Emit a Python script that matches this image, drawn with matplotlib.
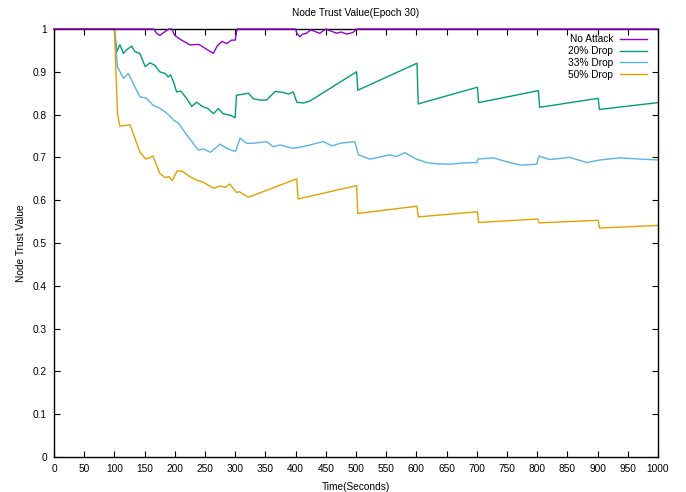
import matplotlib
matplotlib.use("Agg")
import matplotlib.pyplot as plt

plt.rcParams['font.family'] = ['Liberation Sans', 'DejaVu Sans']

# ============================
# Data
# ============================
x_none = [0, 165, 170, 175, 180, 190, 195, 200, 210, 225, 240, 250, 264, 270, 278, 286,
          294, 300, 303, 400, 402, 407, 412, 418, 425, 440, 450, 468, 475, 485, 495, 501, 1000]
y_none = [1, 1, 0.99, 0.985, 0.99, 1, 1, 0.985, 0.975, 0.963, 0.964, 0.955, 0.943, 0.96, 0.971,
          0.966, 0.974, 0.974, 1, 1, 0.99, 0.982, 0.988, 0.99, 0.998, 0.99, 1, 0.99, 0.993, 0.988,
          0.992, 1, 1]

x_20 = [0, 100, 104, 109, 115, 120, 128.6, 134, 142, 151, 159, 167, 175, 184, 189, 193, 198,
        203, 210, 220, 228, 236, 247, 255, 264, 272, 280, 291, 300, 302, 310, 322, 330, 341,
        352, 366, 379, 388, 396, 402, 413, 424, 501, 503, 601, 603, 701, 703, 802, 804, 901,
        903, 1000]
y_20 = [1, 1, 0.947, 0.963, 0.943, 0.951, 0.960, 0.947, 0.943, 0.912, 0.921, 0.915, 0.900,
        0.896, 0.888, 0.893, 0.876, 0.853, 0.855, 0.837, 0.819, 0.829, 0.818, 0.814, 0.802,
        0.814, 0.802, 0.799, 0.793, 0.845, 0.847, 0.850, 0.837, 0.834, 0.834, 0.854, 0.852,
        0.848, 0.853, 0.829, 0.827, 0.832, 0.900, 0.857, 0.920, 0.825, 0.864, 0.828, 0.856,
        0.817, 0.838, 0.812, 0.828]

x_33 = [0, 100, 105, 115, 123, 131, 142, 153, 164, 175, 187, 198, 206, 220, 239, 247, 259,
        275, 286, 297, 301, 308, 319, 330, 352, 363, 374, 396, 418, 446, 460, 474, 498, 504,
        523, 556, 567, 581, 600, 617, 634, 656, 678, 700, 702, 727, 749, 772, 799, 803, 821,
        854, 882, 904, 937, 970, 1000]
y_33 = [1, 1, 0.912, 0.885, 0.896, 0.873, 0.842, 0.838, 0.822, 0.815, 0.803, 0.787, 0.780,
        0.752, 0.717, 0.720, 0.712, 0.731, 0.721, 0.715, 0.715, 0.745, 0.733, 0.733, 0.737,
        0.725, 0.729, 0.721, 0.727, 0.737, 0.727, 0.733, 0.737, 0.706, 0.696, 0.706, 0.702,
        0.711, 0.696, 0.688, 0.685, 0.684, 0.687, 0.688, 0.696, 0.699, 0.690, 0.682, 0.684,
        0.703, 0.695, 0.700, 0.688, 0.694, 0.699, 0.696, 0.694]

x_50 = [0, 100, 105, 109, 126, 134, 142, 152, 164, 175, 184, 190, 196, 204, 213, 225, 236,
        247, 264, 275, 284, 291, 302, 307, 312, 322, 402, 404, 501, 503, 601, 603, 701, 703,
        801, 803, 901, 903, 1000]
y_50 = [1, 1, 0.803, 0.773, 0.776, 0.745, 0.713, 0.696, 0.703, 0.663, 0.653, 0.655, 0.646,
        0.669, 0.667, 0.655, 0.647, 0.642, 0.628, 0.633, 0.630, 0.638, 0.618, 0.620, 0.615,
        0.607, 0.650, 0.603, 0.634, 0.569, 0.586, 0.561, 0.573, 0.548, 0.556, 0.547, 0.553,
        0.535, 0.541]

xticks = list(range(0, 1001, 50))
yticks = [0, 0.1, 0.2, 0.3, 0.4, 0.5, 0.6, 0.7, 0.8, 0.9, 1]
ytick_labels = ['0', '0.1', '0.2', '0.3', '0.4', '0.5', '0.6', '0.7', '0.8', '0.9', '1']

# ============================
# Plot
# ============================
fs = 7.3
fig = plt.figure(figsize=(6.86, 4.92), dpi=100)
ax = fig.add_axes([54 / 686, 1 - 457 / 492, 604 / 686, 428 / 492])

ax.plot(x_none, y_none, color='#9400d3', lw=1.0, label='No Attack', clip_on=False, zorder=5)
ax.plot(x_20, y_20, color='#009e73', lw=1.0, label='20% Drop', clip_on=False)
ax.plot(x_33, y_33, color='#56b4e9', lw=1.0, label='33% Drop', clip_on=False)
ax.plot(x_50, y_50, color='#e69f00', lw=1.0, label='50% Drop', clip_on=False)

ax.set_xlim(0, 1000)
ax.set_ylim(0, 1)
ax.set_xticks(xticks)
ax.set_yticks(yticks)
ax.set_yticklabels(ytick_labels)
ax.tick_params(direction='in', top=True, right=True, length=4, width=0.8,
               labelsize=fs, pad=5)
for s in ax.spines.values():
    s.set_linewidth(1.0)

ax.set_title('Node Trust Value(Epoch 30)', fontsize=fs, pad=9)
ax.set_xlabel('Time(Seconds)', fontsize=fs, labelpad=6)
ax.set_ylabel('Node Trust Value', fontsize=fs, labelpad=5)

ax.legend(loc='upper right', bbox_to_anchor=(0.988, 0.997), frameon=False,
          markerfirst=False, fontsize=fs, handlelength=2.6, handletextpad=0.7,
          labelspacing=0.18, borderaxespad=0.0, borderpad=0.4)

fig.savefig('out.png', dpi=100)
